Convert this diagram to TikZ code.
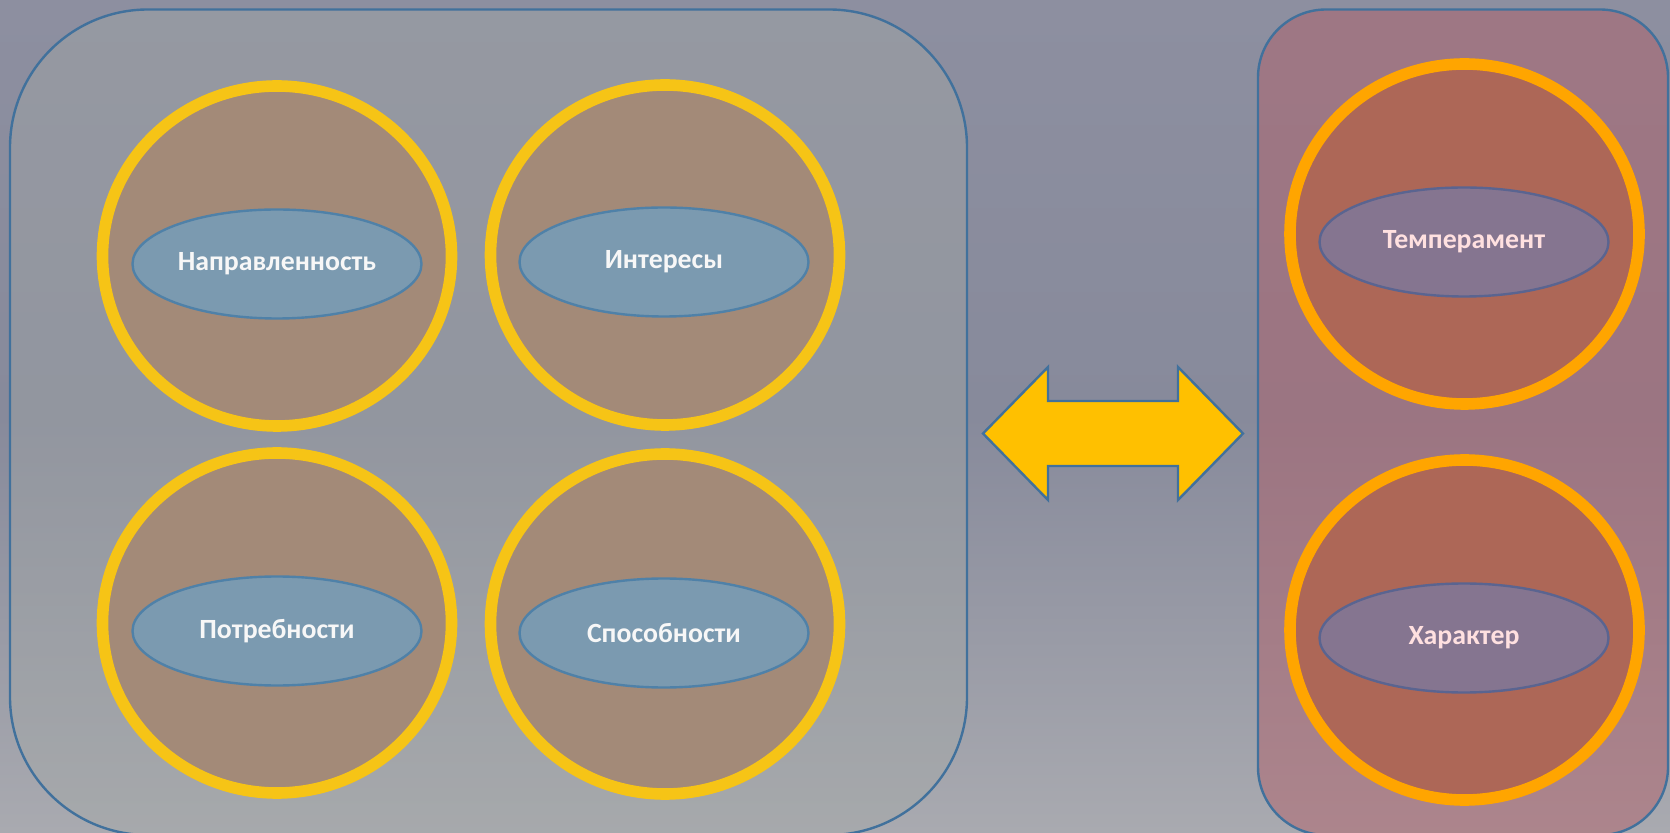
\documentclass[tikz,border=0pt]{standalone}
\usepackage{fontspec}
\setmainfont{Carlito}
\usetikzlibrary{shapes.geometric}
\definecolor{bgtop}{HTML}{8D8FA0}
\definecolor{bgmid}{HTML}{878A9B}
\definecolor{bgbot}{HTML}{A9AAB0}
\definecolor{boxline}{HTML}{41719C}
\definecolor{leftfill}{HTML}{A3A8A6}
\definecolor{rightfill}{HTML}{B0616A}
\definecolor{ringY}{HTML}{F6C416}
\definecolor{ringO}{HTML}{FFA500}
\definecolor{discL}{HTML}{A38A78}
\definecolor{discR}{HTML}{AD6757}
\definecolor{ovalL}{HTML}{7B9AB0}
\definecolor{ovalR}{HTML}{857590}
\definecolor{ovalLline}{HTML}{4F81A8}
\definecolor{ovalRline}{HTML}{5A6490}
\definecolor{txtL}{HTML}{F7F7F7}
\definecolor{txtR}{HTML}{FFE0E0}
\definecolor{arrowfill}{HTML}{FFC000}
\tikzset{
  panel/.style={draw=boxline, line width=1.2pt},
  ringL/.style={ellipse, draw=ringY, fill=discL, line width=5.8pt, minimum width=174.5pt, minimum height=170pt, inner sep=0pt},
  ringR/.style={ellipse, draw=ringO, fill=discR, line width=5.8pt, minimum width=174.5pt, minimum height=170pt, inner sep=0pt},
  ovl/.style={ellipse, fill=ovalL, draw=ovalLline, line width=1.2pt, minimum width=144.5pt, minimum height=54.5pt, inner sep=0pt, text=txtL, font=\bfseries\fontsize{13.9pt}{16pt}\selectfont},
  ovr/.style={ellipse, fill=ovalR, draw=ovalRline, line width=1.2pt, minimum width=144.5pt, minimum height=54.5pt, inner sep=0pt, text=txtR, font=\bfseries\fontsize{13.9pt}{16pt}\selectfont},
  dblarrow/.style={fill=arrowfill, draw=boxline, line width=1.2pt, line join=miter}
}
\begin{document}
\begin{tikzpicture}[x=0.5pt,y=-0.5pt]
\useasboundingbox (0,0) rectangle (1670,833);
% background
\shade[top color=bgtop, bottom color=bgbot, middle color=bgmid] (0,0) rectangle (1670,833);
% panels
\begin{scope}
\clip (0,0) rectangle (1670,833);
\draw[panel, fill=leftfill, fill opacity=0.4, rounded corners=69pt] (10,9.5) rectangle (967,835);
\draw[panel, fill=rightfill, fill opacity=0.5, rounded corners=34pt] (1258,9.5) rectangle (1668,835);
\end{scope}
% left circles
\node[ringL] (c1) at (277,256) {};
\node[ringL] (c2) at (665,255) {};
\node[ringL] (c3) at (277,623) {};
\node[ringL] (c4) at (665,624) {};
% right circles
\node[ringR] (c5) at (1464.5,234) {};
\node[ringR] (c6) at (1464.5,630) {};
% ovals
\node[ovl] (e1) at (277,264) {Направленность};
\node[ovl] (e2) at (664,262) {Интересы};
\node[ovl] (e3) at (277,631) {Потребности};
\node[ovl] (e4) at (664,633) {Способности};
\node[ovr] (e5) at (1464,242) {Темперамент};
\node[ovr] (e6) at (1464,638) {Характер};
% double arrow
\draw[dblarrow] (983,433.5) -- (1048,367) -- (1048,401) -- (1178,401) -- (1178,367)
  -- (1243,433.5) -- (1178,500) -- (1178,466) -- (1048,466) -- (1048,500) -- cycle;
\end{tikzpicture}
\end{document}
